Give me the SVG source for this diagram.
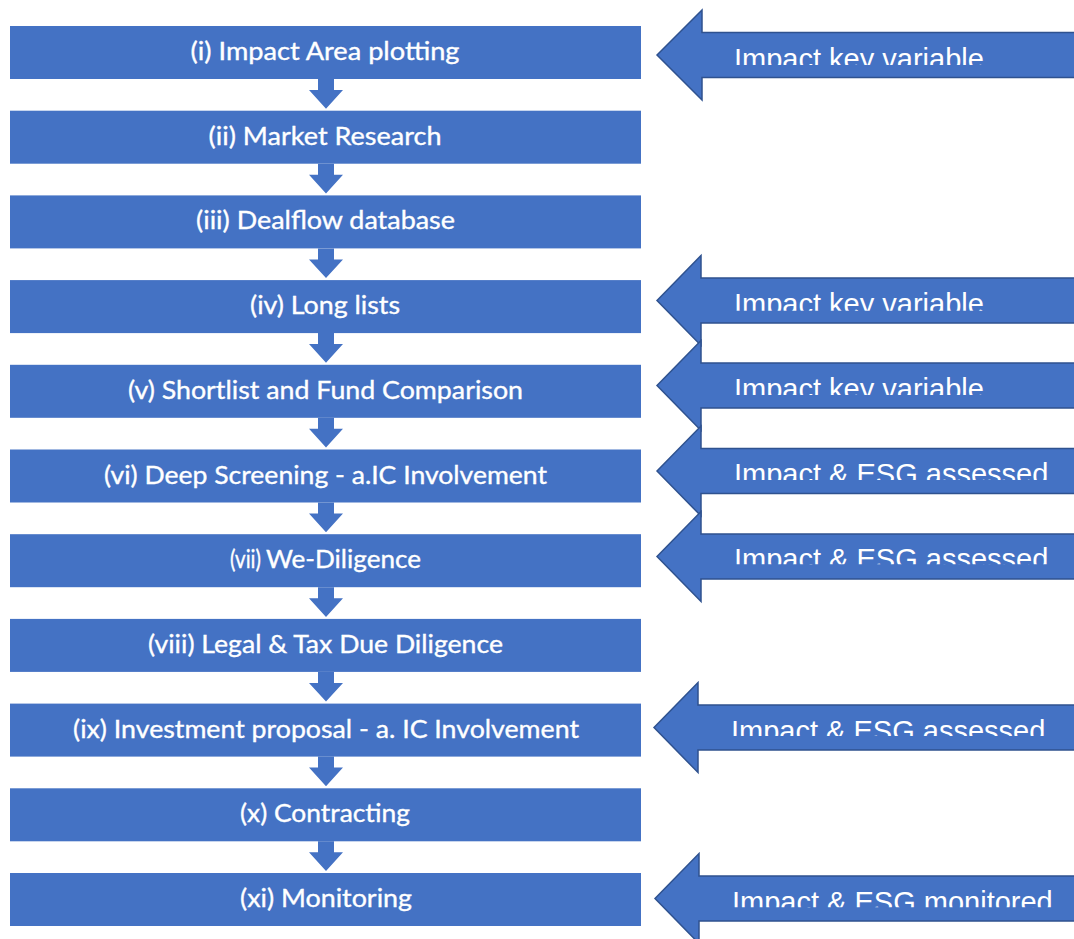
<svg xmlns="http://www.w3.org/2000/svg" width="1074" height="939" viewBox="0 0 1074 939">
<style>
.box{fill:#4472C4}
.bt{fill:#ffffff;stroke:#ffffff;stroke-width:0.35;font-family:Lato,"Open Sans","Liberation Sans",sans-serif;font-size:25px;text-anchor:middle}
.conn{fill:#4472C4}
.side{fill:#4472C4;stroke:#2F528F;stroke-width:1.5;stroke-linejoin:miter}
.st{fill:#ffffff;font-family:"Liberation Sans",Arial,sans-serif;font-size:29px}
</style>
<defs>
<clipPath id="c1"><rect x="700" y="33" width="374" height="32"/></clipPath>
<clipPath id="c4"><rect x="700" y="278" width="374" height="32.7"/></clipPath>
<clipPath id="c5"><rect x="700" y="363" width="374" height="32"/></clipPath>
<clipPath id="c6"><rect x="700" y="449" width="374" height="31"/></clipPath>
<clipPath id="c7"><rect x="700" y="534" width="374" height="30.3"/></clipPath>
<clipPath id="c9"><rect x="700" y="705" width="374" height="31"/></clipPath>
<clipPath id="c11"><rect x="700" y="876" width="374" height="31.3"/></clipPath>
</defs>
<rect width="1074" height="939" fill="#ffffff"/>

<g id="connectors">
<path class="conn" d="M318,79 H334 V90 H343 L326,108.7 L309,90 H318 Z"/>
<path class="conn" d="M318,163.7 H334 V174.7 H343 L326,193.4 L309,174.7 H318 Z"/>
<path class="conn" d="M318,248.4 H334 V259.4 H343 L326,278.1 L309,259.4 H318 Z"/>
<path class="conn" d="M318,333.1 H334 V344.1 H343 L326,362.8 L309,344.1 H318 Z"/>
<path class="conn" d="M318,417.8 H334 V428.8 H343 L326,447.5 L309,428.8 H318 Z"/>
<path class="conn" d="M318,502.5 H334 V513.5 H343 L326,532.2 L309,513.5 H318 Z"/>
<path class="conn" d="M318,587.2 H334 V598.2 H343 L326,616.9 L309,598.2 H318 Z"/>
<path class="conn" d="M318,671.9 H334 V682.9 H343 L326,701.6 L309,682.9 H318 Z"/>
<path class="conn" d="M318,756.6 H334 V767.6 H343 L326,786.3 L309,767.6 H318 Z"/>
<path class="conn" d="M318,841.3 H334 V852.3 H343 L326,871 L309,852.3 H318 Z"/>
</g>

<g id="step1"><rect class="box" x="10" y="26" width="631" height="53"/><text class="bt" x="325" y="60" textLength="269" lengthAdjust="spacingAndGlyphs">(i) Impact Area plotting</text></g>
<g id="step2"><rect class="box" x="10" y="110.7" width="631" height="53"/><text class="bt" x="325" y="144.7" textLength="233" lengthAdjust="spacingAndGlyphs">(ii) Market Research</text></g>
<g id="step3"><rect class="box" x="10" y="195.4" width="631" height="53"/><text class="bt" x="325.5" y="229.4" textLength="259" lengthAdjust="spacingAndGlyphs">(iii) Dealflow database</text></g>
<g id="step4"><rect class="box" x="10" y="280.1" width="631" height="53"/><text class="bt" x="325" y="314.1" textLength="150" lengthAdjust="spacingAndGlyphs">(iv) Long lists</text></g>
<g id="step5"><rect class="box" x="10" y="364.8" width="631" height="53"/><text class="bt" x="325.5" y="398.8" textLength="395" lengthAdjust="spacingAndGlyphs">(v) Shortlist and Fund Comparison</text></g>
<g id="step6"><rect class="box" x="10" y="449.5" width="631" height="53"/><text class="bt" x="325.5" y="483.5" textLength="443" lengthAdjust="spacingAndGlyphs">(vi) Deep Screening - a.IC Involvement</text></g>
<g id="step7"><rect class="box" x="10" y="534.2" width="631" height="53"/><text class="bt" x="245.5" y="568.2" font-size="17" textLength="31" lengthAdjust="spacingAndGlyphs">(vii)</text><text class="bt" x="343.5" y="568.2" textLength="155" lengthAdjust="spacingAndGlyphs">We-Diligence</text></g>
<g id="step8"><rect class="box" x="10" y="618.9" width="631" height="53"/><text class="bt" x="325.5" y="652.9" textLength="355" lengthAdjust="spacingAndGlyphs">(viii) Legal &amp; Tax Due Diligence</text></g>
<g id="step9"><rect class="box" x="10" y="703.6" width="631" height="53"/><text class="bt" x="326" y="737.6" textLength="506" lengthAdjust="spacingAndGlyphs">(ix) Investment proposal - a. IC Involvement</text></g>
<g id="step10"><rect class="box" x="10" y="788.3" width="631" height="53"/><text class="bt" x="325" y="822.3" textLength="170" lengthAdjust="spacingAndGlyphs">(x) Contracting</text></g>
<g id="step11"><rect class="box" x="10" y="873" width="631" height="53"/><text class="bt" x="326" y="907" textLength="172" lengthAdjust="spacingAndGlyphs">(xi) Monitoring</text></g>

<g id="note1"><polygon class="side" points="657,55 702,10 702,32.5 1080,32.5 1080,77.5 702,77.5 702,100"/><text class="st" x="734" y="68.5" clip-path="url(#c1)">Impact key variable</text></g>
<g id="note4"><polygon class="side" points="657,300.5 701,255.5 701,278 1080,278 1080,323 701,323 701,345.5"/><text class="st" x="734" y="314" clip-path="url(#c4)">Impact key variable</text></g>
<g id="note5"><polygon class="side" points="657,385.5 701,340.5 701,363 1080,363 1080,408 701,408 701,430.5"/><text class="st" x="734" y="399" clip-path="url(#c5)">Impact key variable</text></g>
<g id="note6"><polygon class="side" points="657,471 701,426 701,448.5 1080,448.5 1080,493.5 701,493.5 701,516"/><text class="st" x="734" y="484" clip-path="url(#c6)">Impact &amp; ESG assessed</text></g>
<g id="note7"><polygon class="side" points="657,556.5 701,511.5 701,534 1080,534 1080,579 701,579 701,601.5"/><text class="st" x="734" y="569" clip-path="url(#c7)">Impact &amp; ESG assessed</text></g>
<g id="note9"><polygon class="side" points="654,727.5 698,682.5 698,705 1080,705 1080,750 698,750 698,772.5"/><text class="st" x="731" y="741" clip-path="url(#c9)">Impact &amp; ESG assessed</text></g>
<g id="note11"><polygon class="side" points="655,898.5 699,853.5 699,876 1080,876 1080,921 699,921 699,943.5"/><text class="st" x="732" y="911.5" clip-path="url(#c11)">Impact &amp; ESG monitored</text></g>
</svg>
